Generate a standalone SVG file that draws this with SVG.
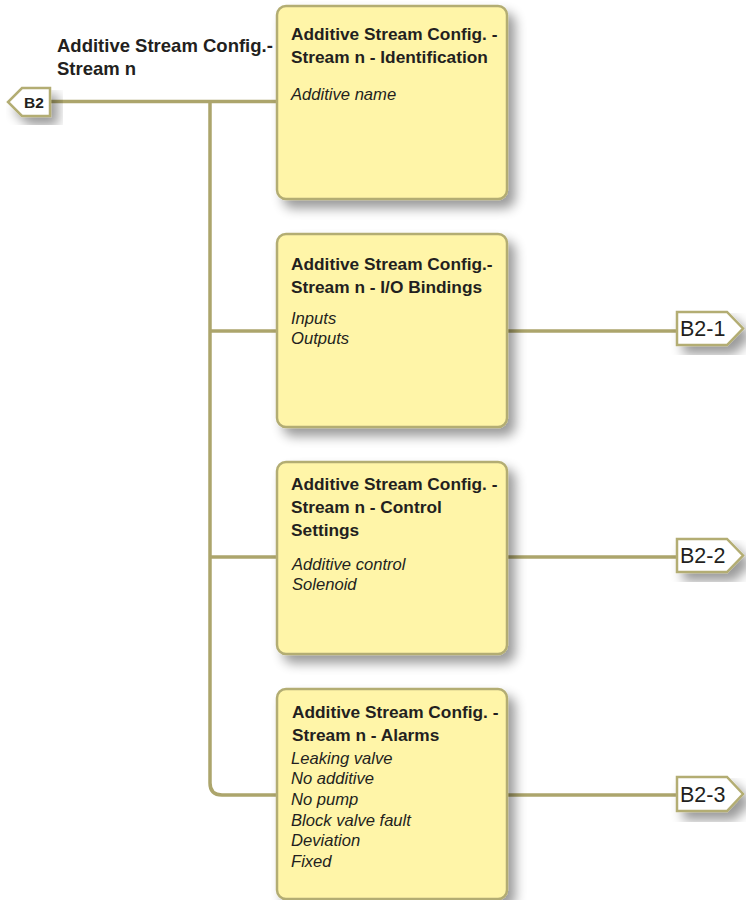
<svg xmlns="http://www.w3.org/2000/svg" width="746" height="900" viewBox="0 0 746 900">
  <defs>
    <filter id="shadow" x="-20%" y="-20%" width="150%" height="150%">
      <feGaussianBlur in="SourceAlpha" stdDeviation="6"/>
      <feOffset dx="7" dy="8" result="b"/>
      <feComponentTransfer><feFuncA type="linear" slope="0.4"/></feComponentTransfer>
      <feMerge><feMergeNode/><feMergeNode in="SourceGraphic"/></feMerge>
    </filter>
    <style>
      .box { fill: #fff5a8; stroke: #b3ad73; stroke-width: 2.5; filter: url(#shadow); }
      .tag { fill: #ffffff; stroke: #b3ad73; stroke-width: 2.5; filter: url(#shadow); }
      .wire { fill: none; stroke: #aca56c; stroke-width: 3.5; }
      .title { font-family: "Liberation Sans", Arial, sans-serif; font-weight: bold; font-size: 17.3px; fill: #231f20; }
      .heading { font-family: "Liberation Sans", Arial, sans-serif; font-weight: bold; font-size: 18.5px; fill: #231f20; }
      .item { font-family: "Liberation Sans", Arial, sans-serif; font-style: italic; font-size: 16.6px; fill: #231f20; }
      .tagtext { font-family: "Liberation Sans", Arial, sans-serif; font-size: 21.5px; fill: #231f20; }
    </style>
  </defs>
  <rect width="746" height="900" fill="#ffffff"/>

  <g id="heading">
    <text class="heading" x="57" y="52">Additive Stream Config.-</text>
    <text class="heading" x="57" y="75">Stream n</text>
  </g>

  <g id="connectors">
    <path class="wire" d="M48 101.5 H277"/>
    <path class="wire" d="M210 101.5 V783 Q210 795 222 795 H277"/>
    <path class="wire" d="M210 331 H277"/>
    <path class="wire" d="M210 557 H277"/>
    <path class="wire" d="M507 331 H677"/>
    <path class="wire" d="M507 557 H677"/>
    <path class="wire" d="M507 795 H677"/>
  </g>

  <g id="tag-b2">
    <polygon class="tag" points="50,88 50,116 22,116 8,102 22,88"/>
    <text x="34" y="108" text-anchor="middle" font-family="Liberation Sans, Arial, sans-serif" font-weight="bold" font-size="15.5" fill="#231f20">B2</text>
  </g>

  <g id="node-identification">
    <rect class="box" x="277" y="6" width="230" height="193" rx="9"/>
    <text class="title" x="291" y="40">Additive Stream Config. -</text>
    <text class="title" x="291" y="63">Stream n - Identification</text>
    <text class="item" x="291" y="100">Additive name</text>
  </g>

  <g id="node-io-bindings">
    <rect class="box" x="277" y="234" width="230" height="193" rx="9"/>
    <text class="title" x="291" y="270">Additive Stream Config.-</text>
    <text class="title" x="291" y="293">Stream n - I/O Bindings</text>
    <text class="item" x="291" y="324">Inputs</text>
    <text class="item" x="291" y="344">Outputs</text>
  </g>

  <g id="node-control-settings">
    <rect class="box" x="277" y="462" width="230" height="192" rx="9"/>
    <text class="title" x="291" y="490">Additive Stream Config. -</text>
    <text class="title" x="291" y="513">Stream n - Control</text>
    <text class="title" x="291" y="536">Settings</text>
    <text class="item" x="292" y="570">Additive control</text>
    <text class="item" x="292" y="590">Solenoid</text>
  </g>

  <g id="node-alarms">
    <rect class="box" x="277" y="689" width="230" height="210" rx="9"/>
    <text class="title" x="292" y="718">Additive Stream Config. -</text>
    <text class="title" x="292" y="741">Stream n - Alarms</text>
    <text class="item" x="291" y="764">Leaking valve</text>
    <text class="item" x="291" y="784">No additive</text>
    <text class="item" x="291" y="805">No pump</text>
    <text class="item" x="291" y="826">Block valve fault</text>
    <text class="item" x="291" y="846">Deviation</text>
    <text class="item" x="291" y="867">Fixed</text>
  </g>

  <g id="tag-b2-1">
    <polygon class="tag" points="677,312 727,312 743,328.5 727,345 677,345"/>
    <text class="tagtext" x="680" y="336">B2-1</text>
  </g>
  <g id="tag-b2-2">
    <polygon class="tag" points="677,539 727,539 743,555.5 727,572 677,572"/>
    <text class="tagtext" x="680" y="563">B2-2</text>
  </g>
  <g id="tag-b2-3">
    <polygon class="tag" points="677,777 727,777 743,794 727,811 677,811"/>
    <text class="tagtext" x="680" y="802">B2-3</text>
  </g>
</svg>
